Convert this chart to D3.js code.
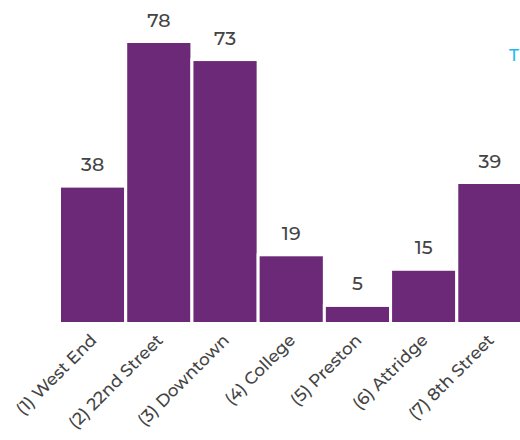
<!DOCTYPE html>
<html><head><meta charset="utf-8">
<script src="https://cdn.jsdelivr.net/npm/d3@7"></script>
<style>body{margin:0;background:#fff}svg{display:block}</style>
</head><body>
<svg id="c" width="520" height="440"></svg>
<script>
const categories = ["(1) West End","(2) 22nd Street","(3) Downtown","(4) College","(5) Preston","(6) Attridge","(7) 8th Street"];
const values = [38,78,73,19,5,15,39];

const svg = d3.select("#c");
const font = "Montserrat, 'Open Sans', 'DejaVu Sans', sans-serif";
const x = d3.scaleBand().domain(categories).range([59.5,523]).padding(0);
const y = d3.scaleLinear().domain([0,78]).range([323.5,41.5]);

svg.selectAll("rect.bar").data(values).join("rect")
  .attr("x",(d,i)=>x(categories[i])).attr("width",x.bandwidth())
  .attr("y",d=>y(d)).attr("height",d=>y(0)-y(d))
  .attr("fill","#6C2977").attr("stroke","#fff").attr("stroke-width",3);

svg.selectAll("text.val").data(values).join("text")
  .attr("x",(d,i)=>x(categories[i])+x.bandwidth()/2)
  .attr("y",d=>y(d)-15)
  .attr("text-anchor","middle")
  .attr("font-family",font).attr("font-size",19).attr("font-weight",500).attr("fill","#444")
  .text(d=>d);

const axis = d3.axisBottom(x).tickSize(0).tickPadding(0);
const g = svg.append("g").attr("transform","translate(1,337)").call(axis);
g.select(".domain").remove();
g.selectAll("text")
  .attr("font-family",font).attr("font-size",17).attr("font-weight",500).attr("fill","#444")
  .attr("text-anchor","end").attr("dy","0.35em")
  .attr("transform","rotate(-45)");

svg.append("text").attr("x",514).attr("y",61).attr("text-anchor","middle")
  .attr("font-family",font).attr("font-size",17).attr("font-weight",500).attr("fill","#1EBBF0").text("T");
</script>
</body></html>
